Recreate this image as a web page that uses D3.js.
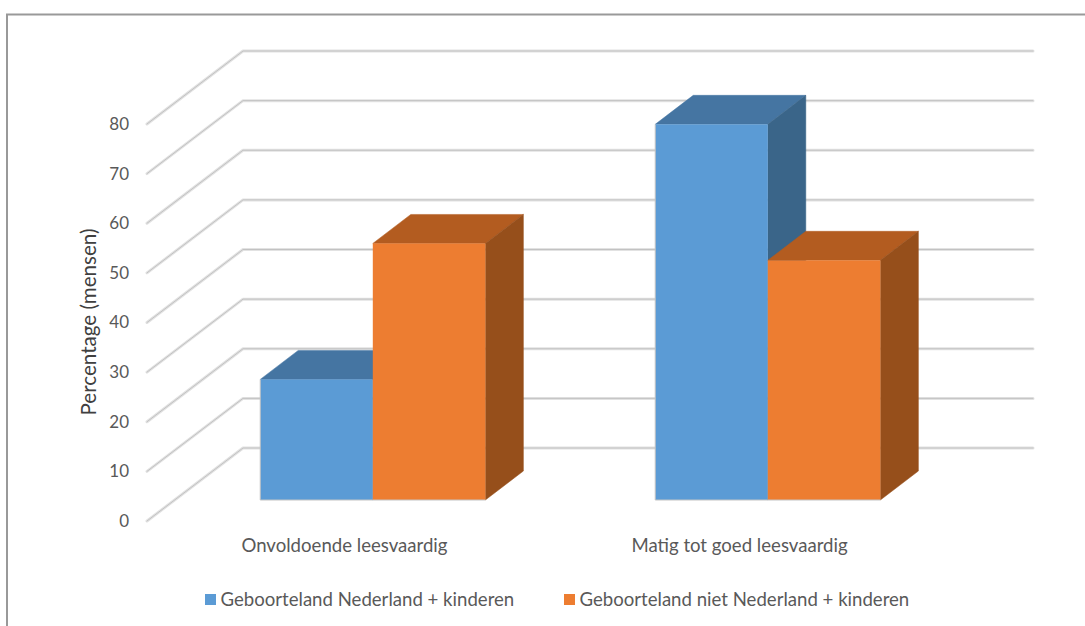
<!DOCTYPE html>
<html>
<head>
<meta charset="utf-8">
<script src="https://cdn.jsdelivr.net/npm/d3@7/dist/d3.min.js"></script>
<style>
html,body{margin:0;padding:0;background:#fff;overflow:hidden}
text{font-family:Lato,"Open Sans",sans-serif;fill:#595959}
</style>
</head>
<body>
<svg id="c" width="1085" height="626"></svg>
<script>
const categories = ["Onvoldoende leesvaardig", "Matig tot goed leesvaardig"];
const seriesNames = ["Geboorteland Nederland + kinderen", "Geboorteland niet Nederland + kinderen"];
const seriesNL = [24.3, 75.7];
const seriesNotNL = [51.7, 48.3];
const yTicks = [0, 10, 20, 30, 40, 50, 60, 70, 80];
const yTitle = "Percentage (mensen)";

const front = ["#5B9BD5", "#ED7D31"];
const top3d = ["#4575A2", "#B35C20"];
const side3d = ["#3A6589", "#964F1B"];

const svg = d3.select("#c");
const W = 1085, H = 626;

// frame
svg.append("path").attr("d", `M7,${H} V14.5 H${W}`).attr("fill", "none")
  .attr("stroke", "#999").attr("stroke-width", 2);

const y = d3.scaleLinear().domain([0, 80]).range([521, 124]);
const x0 = d3.scaleBand().domain(categories).range([147, 937]).paddingInner(0.43).paddingOuter(0.215);
const x1 = d3.scaleBand().domain(d3.range(seriesNames.length)).range([0, x0.bandwidth()]);

const wall = {dx: 96, dy: -73};
const bar = {dx: 38, dy: -29, ox: 28.3, oy: -21};
const wallRight = 1033;

// walls: gridlines
const grid = svg.append("g");
const gridPath = v => `M${147},${y(v)} L${147 + wall.dx},${y(v) + wall.dy} H${wallRight}`;
grid.selectAll("path.o").data(yTicks).join("path").attr("class", "o")
  .attr("d", gridPath).attr("fill", "none").attr("stroke", "#e2e2e2")
  .attr("stroke-width", 3).attr("stroke-linecap", "round").attr("stroke-linejoin", "round");
grid.selectAll("path.i").data(yTicks).join("path").attr("class", "i")
  .attr("d", gridPath).attr("fill", "none").attr("stroke", "#c2c2c2")
  .attr("stroke-width", 1).attr("stroke-linecap", "round").attr("stroke-linejoin", "round");

// y tick labels
svg.append("g").selectAll("text").data(yTicks).join("text")
  .attr("x", 129).attr("y", d => y(d)).attr("dy", "0.35em")
  .attr("text-anchor", "end").attr("font-size", 17).text(d => d);

svg.append("text").attr("transform", "translate(89,322) rotate(-90)")
  .attr("dy", "0.35em").attr("text-anchor", "middle").attr("font-size", 20.6)
  .style("fill", "#404040").text(yTitle);

// bars
const rows = categories.flatMap((c, i) => [
  {c, s: 0, v: seriesNL[i]},
  {c, s: 1, v: seriesNotNL[i]}
]);
const g = svg.append("g").selectAll("g").data(rows).join("g");
const X = d => x0(d.c) + x1(d.s) + bar.ox;
const bw = x1.bandwidth();
const B = y(0) + bar.oy;
const T = d => y(d.v) + bar.oy;

g.append("path").attr("fill", d => top3d[d.s]).attr("stroke", d => top3d[d.s]).attr("stroke-width", 0.5)
  .attr("d", d => `M${X(d)},${T(d)} l${bar.dx},${bar.dy} h${bw} l${-bar.dx},${-bar.dy} Z`);
g.append("path").attr("fill", d => side3d[d.s]).attr("stroke", d => side3d[d.s]).attr("stroke-width", 0.5)
  .attr("d", d => `M${X(d) + bw},${T(d)} l${bar.dx},${bar.dy} V${B + bar.dy} L${X(d) + bw},${B} Z`);
g.append("rect").attr("x", X).attr("y", T).attr("width", bw).attr("height", d => B - T(d))
  .attr("fill", d => front[d.s]);
g.append("path").attr("fill", "none").attr("stroke", "#c4c4c4").attr("stroke-width", 1)
  .attr("d", d => d.s === 0
    ? `M${X(d)},${T(d)} V${B} H${X(d) + bw}`
    : `M${X(d)},${B} H${X(d) + bw}`);

// category labels
svg.append("g").selectAll("text").data(categories).join("text")
  .attr("x", d => x0(d) + x0.bandwidth() / 2).attr("y", 552)
  .attr("text-anchor", "middle").attr("font-size", 18.6).text(d => d);

// legend
const legendX = d3.scaleOrdinal().domain([0, 1]).range([205, 564]);
const lg = svg.append("g").selectAll("g").data(seriesNames).join("g")
  .attr("transform", (d, i) => `translate(${legendX(i)},594)`);
lg.append("rect").attr("width", 11).attr("height", 11).attr("fill", (d, i) => front[i]);
lg.append("text").attr("x", 15.5).attr("y", 11.5).attr("font-size", 18.6).text(d => d);
</script>
</body>
</html>
